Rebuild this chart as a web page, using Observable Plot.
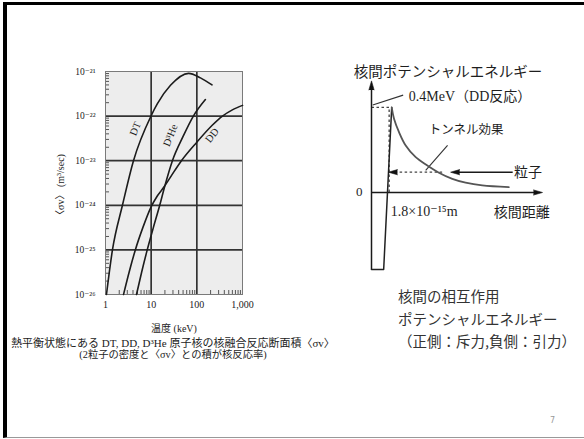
<!DOCTYPE html>
<html><head><meta charset="utf-8">
<script src="https://cdn.jsdelivr.net/npm/d3@7"></script>
<script src="https://cdn.jsdelivr.net/npm/@observablehq/plot@0.6"></script>
<style>
body{margin:0;background:#fff;}
#slide{position:relative;width:584px;height:439px;overflow:hidden;background:#fff;}
#frame{position:absolute;left:3px;top:2px;width:620px;height:432px;border-left:4px solid #000;border-top:3px solid #000;border-bottom:1px solid #999;}
.abs{position:absolute;white-space:nowrap;}
.cap{font-family:"Liberation Serif","Noto Sans CJK JP",serif;color:#222;text-align:center;width:340px;left:3px;}
.note{font-family:"Noto Sans CJK JP",sans-serif;font-size:14.5px;color:#333;left:398px;line-height:22.5px;}
svg{overflow:visible;}
</style></head><body>
<div id="slide"><div id="frame"></div></div>
<script>
// ---------- left chart: fusion reactivity <σv> vs temperature ----------
const dtEnergy  = [1.05, 1.42, 2.35, 4.1, 9.9, 13.7, 26.5, 66, 120, 215];
const dtRate    = [1e-26, 1e-25, 1e-24, 1e-23, 1e-22, 1.9e-22, 4.9e-22, 9.1e-22, 7.2e-22, 5.0e-22];
const ddEnergy  = [2.48, 3.3, 4.5, 6.6, 9.8, 13.5, 18.7, 28, 46, 100, 220, 364, 600, 1000];
const ddRate    = [1e-26, 3.2e-26, 1e-25, 3.2e-25, 8.9e-25, 1.6e-24, 2.5e-24, 4.7e-24, 1e-23, 2.6e-23, 6.3e-23, 1e-22, 1.38e-22, 1.74e-22];
const dheEnergy = [4.77, 6.2, 8.2, 11.2, 15.4, 19.5, 29.2, 50, 84, 154];
const dheRate   = [1e-26, 3.2e-26, 1e-25, 3.2e-25, 1e-24, 2.5e-24, 1e-23, 3.5e-23, 1e-22, 2.35e-22];

const curveNames      = ["DT", "D³He", "DD"];
const curveLabelE     = [4.5, 26.4, 216];
const curveLabelRate  = [5.2e-23, 3.7e-23, 3.7e-23];
const curveLabelAngle = [-68, -68, -52];

const xTicks      = [1, 10, 100, 1000];
const xTickLabels = ["1", "10", "100", "1,000"];
const yTicks      = [1e-26, 1e-25, 1e-24, 1e-23, 1e-22, 1e-21];
const yTickLabels = ["10⁻²⁶", "10⁻²⁵", "10⁻²⁴", "10⁻²³", "10⁻²²", "10⁻²¹"];
const yAxisTitle = "〈σv〉 (m³/sec)";
const xAxisTitle = "温度 (keV)";
const xGrid = [10, 100];
const yGrid = [1e-25, 1e-24, 1e-23, 1e-22];
const minorMult = [2, 3, 4, 5, 6, 7, 8, 9];
const xDecades = [1, 10, 100];
const yDecades = [1e-26, 1e-25, 1e-24, 1e-23, 1e-22];
const xMinor = xDecades.flatMap(d => minorMult.map(m => d * m));
const yMinor = yDecades.flatMap(d => minorMult.map(m => d * m));

const toRows = (es, rs) => es.map((e, i) => ({e, r: rs[i]}));
const dt = toRows(dtEnergy, dtRate), dd = toRows(ddEnergy, ddRate), dhe = toRows(dheEnergy, dheRate);
const curveLabels = curveNames.map((n, i) => ({n, e: curveLabelE[i], r: curveLabelRate[i], a: curveLabelAngle[i]}));

const serif = '"Liberation Serif","DejaVu Serif","Noto Sans CJK JP",serif';
const W1 = 300, H1 = 340, ML = 105, MR = 58, MT = 71, MB = 46;
const lineStyle = {x: "e", y: "r", curve: "monotone-x", stroke: "#1c1c1c", strokeWidth: 1.6};

const left = Plot.plot({
  width: W1, height: H1, marginLeft: ML, marginRight: MR, marginTop: MT, marginBottom: MB,
  style: {fontFamily: serif, fontSize: "10px", color: "#222", background: "transparent"},
  x: {type: "log", domain: [1, 1000]},
  y: {type: "log", domain: [1e-26, 1e-21]},
  marks: [
    Plot.frame({fill: "#ededed", stroke: null}),
    Plot.gridX(xGrid, {stroke: "#333", strokeOpacity: 1, strokeWidth: 1.7}),
    Plot.gridY(yGrid, {stroke: "#333", strokeOpacity: 1, strokeWidth: 1.7}),
    Plot.tickY(yMinor, {y: d => d, insetRight: W1 - ML - MR - 4, stroke: "#555"}),
    Plot.tickX(xMinor, {x: d => d, insetTop: H1 - MT - MB - 4, stroke: "#555"}),
    Plot.frame({stroke: "#7a7a7a", strokeWidth: 1}),
    Plot.axisX(xTicks, {tickSize: 0, tickPadding: 6, fontSize: 10,
      tickFormat: d => xTickLabels[xTicks.indexOf(d)],
      label: xAxisTitle, labelAnchor: "center", labelOffset: 37, labelArrow: "none"}),
    Plot.axisY(yTicks, {tickSize: 0, tickPadding: 10, fontSize: 9.5,
      tickFormat: d => yTickLabels[yTicks.indexOf(d)], label: null}),
    Plot.text([yAxisTitle], {frameAnchor: "left", rotate: -90, dx: -45, dy: 4, textAnchor: "middle", fontSize: 10, fill: "#222"}),
    Plot.line(dt, lineStyle),
    Plot.line(dd, lineStyle),
    Plot.line(dhe, lineStyle),
    Plot.text(curveLabels, {x: "e", y: "r", text: "n", rotate: "a", fontSize: 10.5, fill: "#1c1c1c"})
  ]
});
left.style.position = "absolute"; left.style.left = "0px"; left.style.top = "0px";
document.getElementById("slide").appendChild(left);

// ---------- right diagram: inter-nuclear potential energy ----------
const wellX = [0, 1.0, 1.66];
const wellY = [-0.362, -0.362, 0.40];
const coulombX = [1.66, 1.85, 2.26, 2.81, 3.63, 4.59, 5.54, 6.64, 7.73, 9.10, 11.28];
const coulombY = [0.40, 0.347, 0.284, 0.221, 0.166, 0.127, 0.093, 0.064, 0.046, 0.033, 0.025];

const solidX1 = [0, 0, 7.0];
const solidY1 = [-0.362, 0, 0.0955];
const solidX2 = [0, 13.6, 11.6];
const solidY2 = [0.49, 0, 0.0955];

const leaderX1 = [0.1, 6.25];
const leaderY1 = [0.412, 0.222];
const leaderX2 = [2.6, 4.45];
const leaderY2 = [0.458, 0.104];

const dottedX1 = [0, 1.45, 1.9];
const dottedY1 = [0.40, 0.39, 0.0955];
const dottedX2 = [1.66, 1.45, 5.85];
const dottedY2 = [0.40, 0, 0.0955];

const headX = [0, 14.05, 1.39, 6.5];
const headY = [0.525, 0, 0.0955, 0.0955];
const headAngle = [0, 90, 270, 270];

const labelTexts = ["核間ポテンシャルエネルギー", "0.4MeV（DD反応）", "トンネル効果", "粒子", "0", "1.8×10⁻¹⁵m", "核間距離"];
const labelX = [-1.45, 3.06, 4.71, 11.7, -1.27, 1.59, 10.05];
const labelY = [0.565, 0.452, 0.292, 0.096, 0.005, -0.089, -0.094];
const labelSize = [14.5, 14, 12.5, 14, 13, 14, 14];

const pts = (xs, ys) => xs.map((x, i) => ({x, y: ys[i]}));
const segs = (a, b, c, d) => a.map((x1, i) => ({x1, y1: b[i], x2: c[i], y2: d[i]}));

const right = Plot.plot({
  width: 284, height: 240, marginLeft: 71, marginRight: 0, marginTop: 0, marginBottom: 0,
  style: {fontFamily: serif, color: "#222", background: "transparent"},
  x: {domain: [0, 17.5], axis: null},
  y: {domain: [-0.414, 0.715], axis: null},
  marks: [
    Plot.link(segs(dottedX1, dottedY1, dottedX2, dottedY2), {x1: "x1", y1: "y1", x2: "x2", y2: "y2", stroke: "#444", strokeWidth: 1.3, strokeDasharray: "2.5,2.5"}),
    Plot.link(segs(solidX1, solidY1, solidX2, solidY2), {x1: "x1", y1: "y1", x2: "x2", y2: "y2", stroke: "#1a1a1a", strokeWidth: 1.5}),
    Plot.link(segs(leaderX1, leaderY1, leaderX2, leaderY2), {x1: "x1", y1: "y1", x2: "x2", y2: "y2", stroke: "#333", strokeWidth: 1.1}),
    Plot.line(pts(wellX, wellY), {x: "x", y: "y", stroke: "#222", strokeWidth: 1.5}),
    Plot.line(pts(coulombX, coulombY), {x: "x", y: "y", curve: "catmull-rom", stroke: "#555", strokeWidth: 1.8}),
    Plot.vector(headX.map((x, i) => ({x, y: headY[i], a: headAngle[i]})), {x: "x", y: "y", rotate: "a", length: 9, r: 2.6, shape: "spike", anchor: "end", fill: "#111", stroke: "#111", strokeWidth: 0.6}),
    Plot.text(labelTexts.map((t, i) => ({t, x: labelX[i], y: labelY[i], s: labelSize[i]})), {x: "x", y: "y", text: "t", fontSize: "s", textAnchor: "start", fill: "#1e1e1e"})
  ]
});
right.style.position = "absolute"; right.style.left = "300px"; right.style.top = "40px";
document.getElementById("slide").appendChild(right);

// ---------- captions and notes ----------
const captionLines = ["熱平衡状態にある DT, DD, D³He 原子核の核融合反応断面積〈σv〉", "(2粒子の密度と〈σv〉との積が核反応率)"];
const captionTops = [334, 346];
const captionSizes = [11, 10.3];
const noteLines = ["核間の相互作用", "ポテンシャルエネルギー", "（正側：斥力,負側：引力）"];
const slide = document.getElementById("slide");
captionLines.forEach((t, i) => {
  const d = document.createElement("div");
  d.className = "abs cap"; d.style.top = captionTops[i] + "px"; d.style.fontSize = captionSizes[i] + "px";
  d.textContent = t; slide.appendChild(d);
});
const note = document.createElement("div");
note.className = "abs note"; note.style.top = "285px"; note.innerHTML = noteLines.join("<br>");
slide.appendChild(note);
const pg = document.createElement("div");
pg.className = "abs"; pg.style.cssText += "left:550px;top:416px;font:8px 'DejaVu Sans',sans-serif;color:#999;";
pg.textContent = "7"; slide.appendChild(pg);
</script></body></html>
